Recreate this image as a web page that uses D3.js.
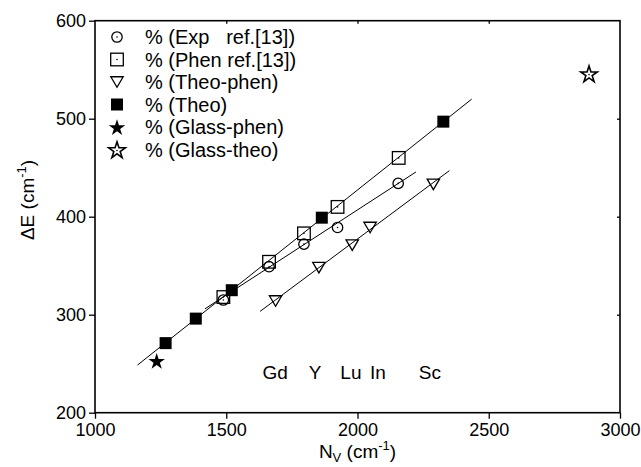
<!DOCTYPE html>
<html>
<head>
<meta charset="utf-8">
<script src="https://cdn.jsdelivr.net/npm/d3@7"></script>
<style>
  html, body { margin: 0; padding: 0; background: #fff; }
  svg text { font-family: "Liberation Sans", Arial, Helvetica, sans-serif; fill: #000; }
</style>
</head>
<body>
<svg id="chart" width="641" height="467"></svg>
<script>
// ---- data ----
const xTicks = [1000, 1500, 2000, 2500, 3000];
const yTicks = [200, 300, 400, 500, 600];

const expX = [1489, 1663, 1796, 1924, 2155];
const expY = [315, 349, 372, 389, 434];

const phenX = [1489, 1663, 1796, 1924, 2157];
const phenY = [318, 354, 383, 410, 460];

const theoPhenX = [1688, 1853, 1980, 2048, 2289];
const theoPhenY = [314, 348, 371, 389, 433];

const theoX = [1269, 1384, 1521, 1864, 2327];
const theoY = [271, 296, 325, 399, 497];

const glassPhenX = [1235];
const glassPhenY = [253];

const glassTheoX = [2882];
const glassTheoY = [546];

// fitted straight lines (endpoints)
const fitTheoX = [1162, 2435];
const fitTheoY = [248.6, 520];
const fitExpX = [1419, 2223];
const fitExpY = [306, 445.7];
const fitTheoPhenX = [1629, 2350];
const fitTheoPhenY = [303.4, 447];

const legendLabels = ["% (Exp   ref.[13])", "% (Phen ref.[13])", "% (Theo-phen)", "% (Theo)", "% (Glass-phen)", "% (Glass-theo)"];

const elementNames = ["Gd", "Y", "Lu", "In", "Sc"];
const elementX = [1686, 1838, 1975, 2078, 2276];
const elementY = 234;

// ---- drawing ----
const svg = d3.select("#chart");
const L = 95, R = 620, T = 20.7, B = 412.7;
const x = d3.scaleLinear().domain([1000, 3000]).range([L, R]);
const y = d3.scaleLinear().domain([200, 600]).range([B, T]);

const zip = (xs, ys) => xs.map((v, i) => [v, ys[i]]);

// axes
const axFont = "18px";
const gx = svg.append("g").attr("transform", `translate(0,${B})`)
  .call(d3.axisBottom(x).tickValues(xTicks).tickSize(6).tickPadding(5).tickFormat(d3.format("d")));
const gy = svg.append("g").attr("transform", `translate(${L},0)`)
  .call(d3.axisLeft(y).tickValues(yTicks).tickSize(6).tickPadding(3).tickFormat(d3.format("d")));
const gt = svg.append("g").attr("transform", `translate(0,${T})`)
  .call(d3.axisBottom(x).tickValues(xTicks.slice(1, -1)).tickSize(3).tickFormat(""));
const gr = svg.append("g").attr("transform", `translate(${R},0)`)
  .call(d3.axisLeft(y).tickValues(yTicks.slice(1, -1)).tickSize(3).tickFormat(""));
[gx, gy, gt, gr].forEach(g => {
  g.select(".domain").remove();
  g.selectAll("line").attr("stroke", "#000").attr("stroke-width", 1.3);
  g.selectAll("text").style("font-size", axFont).style("font-family", '"Liberation Sans", Arial, sans-serif').attr("fill", "#000");
});
gx.selectAll("text").attr("dy", "0.71em");

// frame
svg.append("rect").attr("x", L).attr("y", T).attr("width", R - L).attr("height", B - T)
  .attr("fill", "none").attr("stroke", "#000").attr("stroke-width", 1.6);

// axis titles
const xt = svg.append("text").attr("x", (L + R) / 2).attr("y", 458)
  .attr("text-anchor", "middle").style("font-size", "19px");
xt.append("tspan").text("N");
xt.append("tspan").attr("dy", 4).style("font-size", "13px").text("V");
xt.append("tspan").attr("dy", -4).text(" (cm");
xt.append("tspan").attr("dy", -8).style("font-size", "13px").text("-1");
xt.append("tspan").attr("dy", 8).text(")");

const yt = svg.append("text").attr("transform", "translate(34,200) rotate(-90)")
  .attr("text-anchor", "middle").style("font-size", "19px");
yt.append("tspan").text("\u0394E (cm");
yt.append("tspan").attr("dy", -8).style("font-size", "13px").text("-1");
yt.append("tspan").attr("dy", 8).text(")");

// fit lines
const line = d3.line().x(d => x(d[0])).y(d => y(d[1]));
[[fitTheoX, fitTheoY], [fitExpX, fitExpY], [fitTheoPhenX, fitTheoPhenY]].forEach(([xs, ys]) => {
  svg.append("path").attr("d", line(zip(xs, ys))).attr("fill", "none").attr("stroke", "#000").attr("stroke-width", 1);
});

// marker drawers
const sw = 1.3;
function drawCircle(g, cx, cy) {
  g.append("circle").attr("cx", cx).attr("cy", cy).attr("r", 5.2).attr("fill", "none").attr("stroke", "#000").attr("stroke-width", sw);
  g.append("circle").attr("cx", cx).attr("cy", cy).attr("r", 0.8).attr("fill", "#000");
}
function drawOpenSquare(g, cx, cy) {
  g.append("rect").attr("x", cx - 6.3).attr("y", cy - 6.3).attr("width", 12.6).attr("height", 12.6).attr("fill", "none").attr("stroke", "#000").attr("stroke-width", sw);
  g.append("circle").attr("cx", cx).attr("cy", cy).attr("r", 0.8).attr("fill", "#000");
}
function drawTriangle(g, cx, cy) {
  const w = 6.2, h = 10.5;
  g.append("path").attr("d", `M${cx - w},${cy - h / 2}L${cx + w},${cy - h / 2}L${cx},${cy + h / 2}Z`)
    .attr("fill", "none").attr("stroke", "#000").attr("stroke-width", sw);
}
function drawFilledSquare(g, cx, cy) {
  g.append("rect").attr("x", cx - 6).attr("y", cy - 6).attr("width", 12).attr("height", 12).attr("fill", "#000");
}
const starPath = d3.symbol().type(d3.symbolStar).size(85);
function drawFilledStar(g, cx, cy) {
  g.append("path").attr("d", starPath()).attr("transform", `translate(${cx},${cy + 1})`).attr("fill", "#000");
}
function drawOpenStar(g, cx, cy) {
  g.append("path").attr("d", starPath()).attr("transform", `translate(${cx},${cy + 1})`).attr("fill", "none").attr("stroke", "#000").attr("stroke-width", 1.6);
  g.append("circle").attr("cx", cx).attr("cy", cy + 1).attr("r", 0.8).attr("fill", "#000");
}

const series = [
  [expX, expY, drawCircle],
  [phenX, phenY, drawOpenSquare],
  [theoPhenX, theoPhenY, drawTriangle],
  [theoX, theoY, drawFilledSquare],
  [glassPhenX, glassPhenY, drawFilledStar],
  [glassTheoX, glassTheoY, drawOpenStar]
];

const gm = svg.append("g");
series.forEach(([xs, ys, fn]) => {
  zip(xs, ys).forEach(d => fn(gm, x(d[0]), y(d[1])));
});

// legend
const lg = svg.append("g");
legendLabels.forEach((lab, i) => {
  const cy = 37 + i * 22.5;
  series[i][2](lg, 117, cy);
  lg.append("text").attr("x", 145).attr("y", cy).attr("dy", "0.36em")
    .attr("xml:space", "preserve").style("white-space", "pre").style("font-size", "20px").text(lab);
});

// element annotations
elementNames.forEach((n, i) => {
  svg.append("text").attr("x", x(elementX[i])).attr("y", y(elementY))
    .attr("text-anchor", "middle").style("font-size", "19px").text(n);
});
</script>
</body>
</html>
